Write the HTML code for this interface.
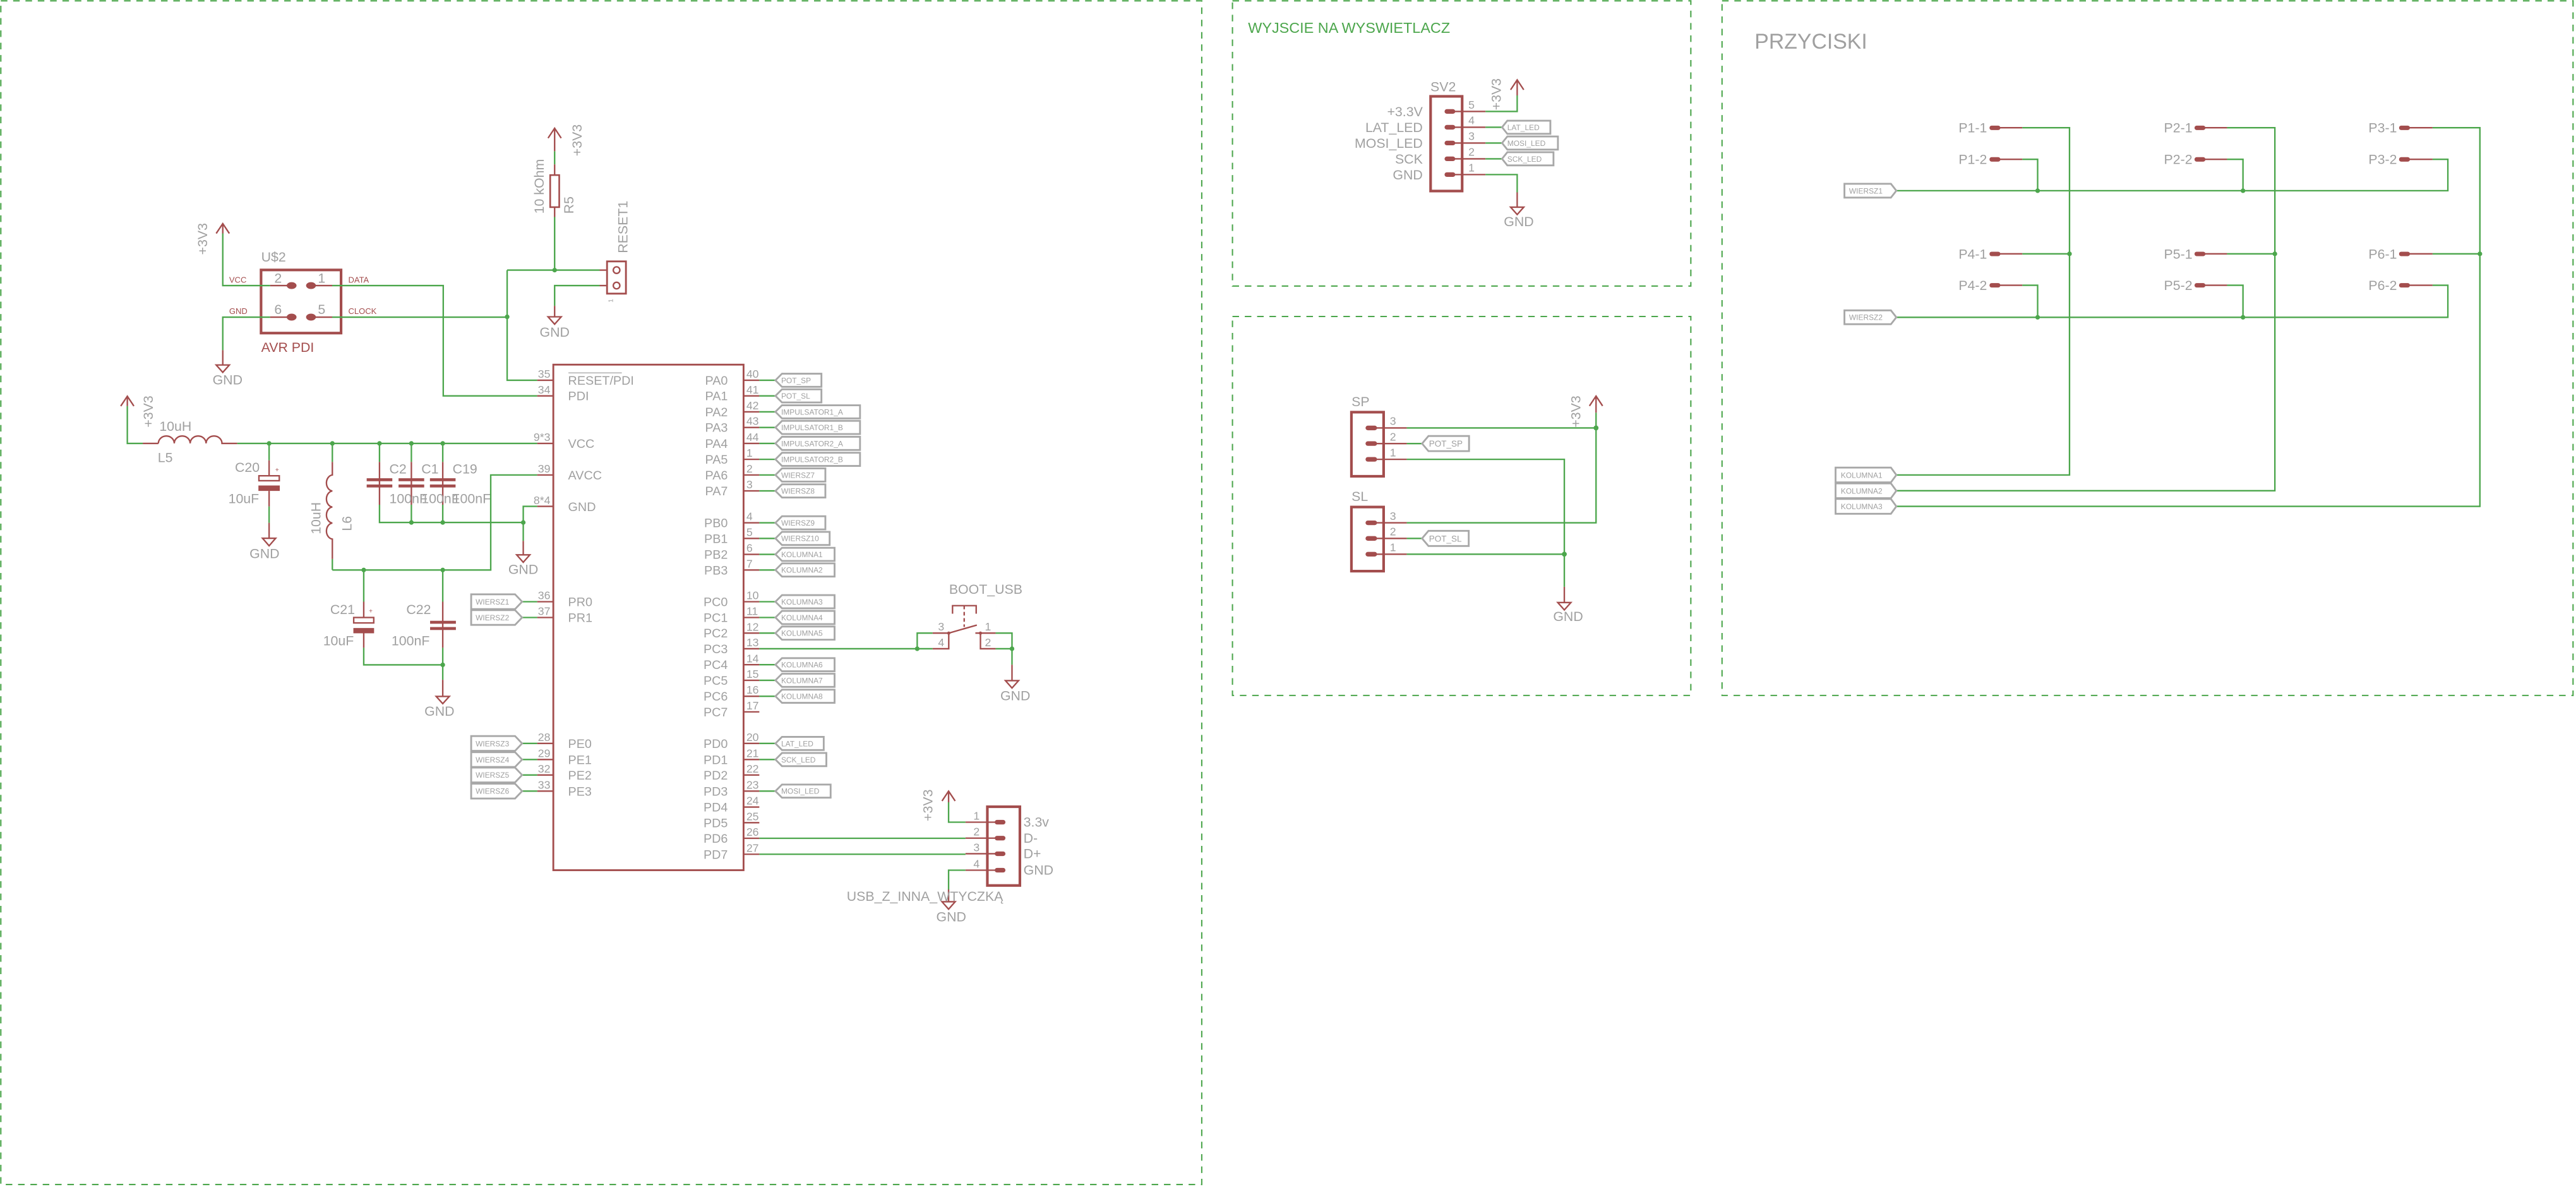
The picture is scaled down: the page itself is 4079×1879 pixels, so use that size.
<!DOCTYPE html>
<html><head><meta charset="utf-8"><style>
html,body{margin:0;padding:0;background:#fff;}
svg{display:block;}
text{font-family:"Liberation Sans",Arial,sans-serif;fill:#a0a0a0;}
.r{stroke:#a34d4d;fill:none;stroke-width:0.9;}
.rt{stroke:#a34d4d;fill:none;stroke-width:1.6;}
.g{stroke:#4ca64c;fill:none;stroke-width:0.9;}
.fr{stroke:#4ca64c;fill:none;stroke-width:0.8;stroke-dasharray:4 3.5;}
.lb{stroke:#a8a8a8;fill:none;stroke-width:1.1;}
.j{fill:#4ca64c;}
.pad{fill:#a34d4d;}
.rd{fill:#a34d4d;}
.lt{font-size:4.6px;}
.pn{font-size:7.6px;}
.nm{font-size:6.8px;}
.v{font-size:8.2px;}
</style></head><body>
<svg width="4079" height="1879" viewBox="0 0 1568 722" preserveAspectRatio="none" xmlns="http://www.w3.org/2000/svg">
<!-- frames -->
<rect class="fr" x="0.5" y="0.5" width="731" height="720"/>
<rect class="fr" x="750.2" y="0.5" width="279" height="173.5"/>
<rect class="fr" x="750.2" y="192.5" width="279" height="230.5"/>
<rect class="fr" x="1048.2" y="0.5" width="518" height="422.5"/>

<!-- ===== R5 / RESET ===== -->
<path class="r" d="M333.6 84 L337.6 78 L341.6 84 M337.6 78 V92"/>
<path class="g" d="M337.6 92 V100"/>
<path class="r" d="M337.6 100 V106.5 M337.6 126 V132"/>
<rect class="r" x="334.9" y="106.5" width="5.5" height="19.5" style="stroke-width:1"/>
<path class="g" d="M337.6 132 V164.3 M308.7 164.3 H365 M308.7 164.3 V231.3 H327"/>
<path class="r" d="M365 164.3 H369"/>
<rect class="r" x="369.5" y="159" width="11.5" height="19.6" style="stroke-width:1.1"/>
<circle class="r" cx="375.3" cy="164.3" r="2"/><circle class="r" cx="375.3" cy="173.7" r="2"/>
<path class="g" d="M365 173.7 H337.6 V186"/>
<path class="r" d="M369 173.7 H365 M337.6 186 V192.7 M333.6 192.7 H341.6 L337.6 197.2 Z"/>
<text class="v" x="337.6" y="204.8" text-anchor="middle">GND</text>
<text class="v" transform="translate(354,95) rotate(-90)">+3V3</text>
<text class="v" transform="translate(331,130) rotate(-90)">10 kOhm</text>
<text class="v" transform="translate(349,130) rotate(-90)">R5</text>
<text class="v" transform="translate(382,154) rotate(-90)">RESET1</text>
<text style="font-size:4px" transform="translate(373,184) rotate(-90)">1</text>
<circle class="j" cx="337.6" cy="164.3" r="1.4"/>
<circle class="j" cx="308.7" cy="192.7" r="1.4"/>

<!-- ===== U$2 AVR PDI ===== -->
<rect class="rt" x="158.9" y="164.2" width="48.7" height="38.4"/>
<ellipse class="pad" cx="177.5" cy="173.7" rx="3" ry="2.1"/><ellipse class="pad" cx="189.3" cy="173.7" rx="3" ry="2.1"/>
<ellipse class="pad" cx="177.5" cy="192.9" rx="3" ry="2.1"/><ellipse class="pad" cx="189.3" cy="192.9" rx="3" ry="2.1"/>
<path class="r" d="M164.4 173.7 H177 M189.5 173.7 H202.2 M164.4 192.9 H177 M189.5 192.9 H202.2"/>
<path class="g" d="M202.2 173.7 H269.8 V240.8 H327 M202.2 192.9 H308.7 M164.4 173.7 H135.6 V142 M164.4 192.9 H135.6 V213"/>
<path class="r" d="M131.6 142 L135.6 136 L139.6 142 M135.6 136 V142 M135.6 213 V222 M131.6 222 H139.6 L135.6 226.5 Z"/>
<text class="v" x="138.5" y="233.8" text-anchor="middle">GND</text>
<text class="v" transform="translate(126,155) rotate(-90)">+3V3</text>
<text class="v" x="159" y="159">U$2</text>
<text class="v" x="167" y="172">2</text><text class="v" x="193.5" y="172">1</text>
<text class="v" x="167" y="191">6</text><text class="v" x="193.5" y="191">5</text>
<text style="font-size:5px;fill:#a34d4d" x="139.5" y="172">VCC</text>
<text style="font-size:5px;fill:#a34d4d" x="139.5" y="191">GND</text>
<text style="font-size:5px;fill:#a34d4d" x="212" y="172">DATA</text>
<text style="font-size:5px;fill:#a34d4d" x="212" y="191">CLOCK</text>
<text style="font-size:8.2px;fill:#a34d4d" x="159" y="214">AVR PDI</text>

<!-- ===== Power filter ===== -->
<path class="r" d="M73.5 247 L77.5 241 L81.5 247 M77.5 241 V247"/>
<path class="g" d="M77.5 247 V269.7 H86.9"/>
<path class="r" d="M86.9 269.7 H96.4 M96.4 269.7 a4.84 4.5 0 0 1 9.68 0 a4.84 4.5 0 0 1 9.68 0 a4.84 4.5 0 0 1 9.68 0 a4.84 4.5 0 0 1 9.68 0 H144.4"/>
<path class="g" d="M144.4 269.7 H327"/>
<path class="r" d="M327 269.7 H337"/>
<text class="v" transform="translate(93,260) rotate(-90)">+3V3</text>
<text class="v" x="97" y="262">10uH</text>
<text class="v" x="96" y="281">L5</text>
<!-- C20 -->
<path class="g" d="M163.8 269.7 V280 M163.8 308 V318"/>
<path class="r" d="M163.8 280 V289 M163.8 298.6 V308 M163.8 318 V327.4 M159.8 327.4 H167.8 L163.8 332 Z"/>
<rect class="r" x="157.6" y="289.4" width="12.4" height="3"/>
<rect class="rd" x="157.3" y="295.3" width="13" height="3.3"/>
<text style="font-size:4px;fill:#a34d4d" x="167.5" y="287">+</text>
<text class="v" x="143" y="287">C20</text>
<text class="v" x="139" y="306">10uF</text>
<text class="v" x="161" y="339.5" text-anchor="middle">GND</text>
<!-- L6 -->
<path class="g" d="M202.3 269.7 V281 M202.3 340 V346.7"/>
<path class="r" d="M202.3 281 V288.9 a4 4.9 0 0 0 0 9.75 a4 4.9 0 0 0 0 9.75 a4 4.9 0 0 0 0 9.75 a4 4.9 0 0 0 0 9.75 V340"/>
<text class="v" transform="translate(195,325) rotate(-90)">10uH</text>
<text class="v" transform="translate(214,323) rotate(-90)">L6</text>
<!-- C2 C1 C19 -->
<path class="g" d="M231 269.7 V281 M250.4 269.7 V281 M269.5 269.7 V281 M231 307 V317.8 H318.5 M250.4 307 V317.8 M269.5 307 V317.8"/>
<path class="r" d="M231 281 V307 M250.4 281 V307 M269.5 281 V307"/>
<rect class="rd" x="223.2" y="290.9" width="15.6" height="1.8"/><rect class="rd" x="223.2" y="294.7" width="15.6" height="1.8"/>
<rect class="rd" x="242.6" y="290.9" width="15.6" height="1.8"/><rect class="rd" x="242.6" y="294.7" width="15.6" height="1.8"/>
<rect class="rd" x="261.7" y="290.9" width="15.6" height="1.8"/><rect class="rd" x="261.7" y="294.7" width="15.6" height="1.8"/>
<text class="v" x="237" y="288">C2</text><text class="v" x="256.5" y="288">C1</text><text class="v" x="275.5" y="288">C19</text>
<text class="v" x="237" y="306">100nF</text><text class="v" x="256.5" y="306">100nF</text><text class="v" x="275.5" y="306">100nF</text>
<circle class="j" cx="163.8" cy="269.7" r="1.4"/><circle class="j" cx="202.3" cy="269.7" r="1.4"/>
<circle class="j" cx="231" cy="269.7" r="1.4"/><circle class="j" cx="250.4" cy="269.7" r="1.4"/><circle class="j" cx="269.5" cy="269.7" r="1.4"/>
<circle class="j" cx="250.4" cy="317.8" r="1.4"/><circle class="j" cx="269.5" cy="317.8" r="1.4"/><circle class="j" cx="318.5" cy="317.8" r="1.4"/>
<!-- GND pin 8*4 -->
<path class="g" d="M327 308 H318.5 V329"/>
<path class="r" d="M327 308 H337 M318.5 329 V337.5 M314.5 337.5 H322.5 L318.5 342 Z"/>
<text class="v" x="318.5" y="349" text-anchor="middle">GND</text>
<!-- AVCC -->
<path class="g" d="M327 288.9 H298.7 V346.7 H202.3"/>
<path class="r" d="M327 288.9 H337"/>
<!-- C21 C22 -->
<path class="g" d="M221.4 346.7 V366 M269.5 346.7 V366 M221.4 394 V404.4 H269.5 M269.5 394 V413.5"/>
<path class="r" d="M221.4 366 V375.5 M221.4 385.1 V394 M269.5 366 V394 M269.5 413.5 V423.6 M265.5 423.6 H273.5 L269.5 428 Z"/>
<rect class="r" x="215.3" y="375.6" width="12.2" height="3.3"/>
<rect class="rd" x="215.1" y="382" width="12.6" height="3.2"/>
<rect class="rd" x="261.8" y="377.6" width="15.7" height="1.8"/><rect class="rd" x="261.8" y="381.4" width="15.7" height="1.8"/>
<text style="font-size:4px;fill:#a34d4d" x="224.5" y="373">+</text>
<text class="v" x="201" y="373.5">C21</text><text class="v" x="247.3" y="373.5">C22</text>
<text class="v" x="196.7" y="392.5">10uF</text><text class="v" x="238.3" y="392.5">100nF</text>
<text class="v" x="267.5" y="435.3" text-anchor="middle">GND</text>
<circle class="j" cx="221.4" cy="346.7" r="1.4"/><circle class="j" cx="269.5" cy="346.7" r="1.4"/><circle class="j" cx="269.5" cy="404.4" r="1.4"/>

<!-- ===== Main chip ===== -->
<rect class="r" x="336.8" y="221.8" width="115.8" height="307.5" style="stroke-width:1.1"/>
<g class="pn">
<text x="345.8" y="234">RESET/PDI</text>
<path class="r" d="M346 226.8 H378.5" style="stroke-width:0.5;stroke:#a0a0a0"/>
<text x="345.8" y="243.5">PDI</text>
<text x="345.8" y="272.4">VCC</text>
<text x="345.8" y="291.6">AVCC</text>
<text x="345.8" y="310.8">GND</text>
<text x="345.8" y="368.7">PR0</text><text x="345.8" y="378.3">PR1</text>
<text x="345.8" y="454.9">PE0</text><text x="345.8" y="464.7">PE1</text><text x="345.8" y="474.1">PE2</text><text x="345.8" y="483.9">PE3</text>
</g>
<g class="pn" text-anchor="end">
<text x="443" y="234">PA0</text><text x="443" y="243.5">PA1</text><text x="443" y="253.2">PA2</text><text x="443" y="262.7">PA3</text>
<text x="443" y="272.4">PA4</text><text x="443" y="282.1">PA5</text><text x="443" y="291.6">PA6</text><text x="443" y="301.3">PA7</text>
<text x="443" y="320.7">PB0</text><text x="443" y="330.2">PB1</text><text x="443" y="339.9">PB2</text><text x="443" y="349.4">PB3</text>
<text x="443" y="368.7">PC0</text><text x="443" y="378.3">PC1</text><text x="443" y="387.8">PC2</text><text x="443" y="397.3">PC3</text>
<text x="443" y="407">PC4</text><text x="443" y="416.5">PC5</text><text x="443" y="426.2">PC6</text><text x="443" y="435.7">PC7</text>
<text x="443" y="454.9">PD0</text><text x="443" y="464.7">PD1</text><text x="443" y="474.1">PD2</text><text x="443" y="483.9">PD3</text>
<text x="443" y="493.6">PD4</text><text x="443" y="503.1">PD5</text><text x="443" y="512.6">PD6</text><text x="443" y="522.3">PD7</text>
</g>
<!-- left pin numbers & stubs -->
<g class="nm" text-anchor="end">
<text x="335" y="229.8">35</text><text x="335" y="239.3">34</text><text x="335" y="268.2">9*3</text><text x="335" y="287.4">39</text><text x="335" y="306.6">8*4</text>
<text x="335" y="364.5">36</text><text x="335" y="374.1">37</text>
<text x="335" y="450.7">28</text><text x="335" y="460.5">29</text><text x="335" y="469.9">32</text><text x="335" y="479.7">33</text>
</g>
<path class="r" d="M327 231.3 H337 M327 240.8 H337 M327 366 H337 M327 375.6 H337 M327 452.2 H337 M327 462 H337 M327 471.4 H337 M327 481.2 H337"/>
<path class="g" d="M317.8 366 H327 M317.8 375.6 H327 M317.8 452.2 H327 M317.8 462 H327 M317.8 471.4 H327 M317.8 481.2 H327"/>
<!-- left labels -->
<g class="lb">
<path d="M286.8 361.5 H313.5 L317.8 366 L313.5 370.5 H286.8 Z"/>
<path d="M286.8 371.1 H313.5 L317.8 375.6 L313.5 380.1 H286.8 Z"/>
<path d="M286.8 447.7 H313.5 L317.8 452.2 L313.5 456.7 H286.8 Z"/>
<path d="M286.8 457.5 H313.5 L317.8 462 L313.5 466.5 H286.8 Z"/>
<path d="M286.8 466.9 H313.5 L317.8 471.4 L313.5 475.9 H286.8 Z"/>
<path d="M286.8 476.7 H313.5 L317.8 481.2 L313.5 485.7 H286.8 Z"/>
</g>
<g class="lt">
<text x="289.5" y="367.7">WIERSZ1</text><text x="289.5" y="377.3">WIERSZ2</text>
<text x="289.5" y="453.9">WIERSZ3</text><text x="289.5" y="463.7">WIERSZ4</text><text x="289.5" y="473.1">WIERSZ5</text><text x="289.5" y="482.9">WIERSZ6</text>
</g>
<!-- right pin numbers -->
<g class="nm">
<text x="454.3" y="229.8">40</text><text x="454.3" y="239.3">41</text><text x="454.3" y="249">42</text><text x="454.3" y="258.5">43</text>
<text x="454.3" y="268.2">44</text><text x="454.3" y="277.9">1</text><text x="454.3" y="287.4">2</text><text x="454.3" y="297.1">3</text>
<text x="454.3" y="316.5">4</text><text x="454.3" y="326">5</text><text x="454.3" y="335.7">6</text><text x="454.3" y="345.2">7</text>
<text x="454.3" y="364.5">10</text><text x="454.3" y="374.1">11</text><text x="454.3" y="383.6">12</text><text x="454.3" y="393.1">13</text>
<text x="454.3" y="402.8">14</text><text x="454.3" y="412.3">15</text><text x="454.3" y="422">16</text><text x="454.3" y="431.5">17</text>
<text x="454.3" y="450.7">20</text><text x="454.3" y="460.5">21</text><text x="454.3" y="469.9">22</text><text x="454.3" y="479.7">23</text>
<text x="454.3" y="489.4">24</text><text x="454.3" y="498.9">25</text><text x="454.3" y="508.4">26</text><text x="454.3" y="518.1">27</text>
</g>
<path class="r" d="M452.6 231.3 H462.2 M452.6 240.8 H462.2 M452.6 250.5 H462.2 M452.6 260 H462.2 M452.6 269.7 H462.2 M452.6 279.4 H462.2 M452.6 288.9 H462.2 M452.6 298.6 H462.2
M452.6 318 H462.2 M452.6 327.5 H462.2 M452.6 337.2 H462.2 M452.6 346.7 H462.2 M452.6 366 H462.2 M452.6 375.6 H462.2 M452.6 385.1 H462.2 M452.6 394.6 H462.2
M452.6 404.3 H462.2 M452.6 413.8 H462.2 M452.6 423.5 H462.2 M452.6 433 H462.2 M452.6 452.2 H462.2 M452.6 462 H462.2 M452.6 471.4 H462.2 M452.6 481.2 H462.2
M452.6 490.9 H462.2 M452.6 500.4 H462.2 M452.6 509.9 H462.2 M452.6 519.6 H462.2"/>
<path class="g" d="M462.2 231.3 H472 M462.2 240.8 H472 M462.2 250.5 H472 M462.2 260 H472 M462.2 269.7 H472 M462.2 279.4 H472 M462.2 288.9 H472 M462.2 298.6 H472
M462.2 318 H472 M462.2 327.5 H472 M462.2 337.2 H472 M462.2 346.7 H472 M462.2 366 H472 M462.2 375.6 H472 M462.2 385.1 H472
M462.2 404.3 H472 M462.2 413.8 H472 M462.2 423.5 H472 M462.2 452.2 H472 M462.2 462 H472 M462.2 481.2 H472"/>
<!-- right labels -->
<g class="lb">
<path d="M472 231.3 L476 227.3 H500 V235.3 H476 Z"/>
<path d="M472 240.8 L476 236.8 H500 V244.8 H476 Z"/>
<path d="M472 250.5 L476 246.5 H523.5 V254.5 H476 Z"/>
<path d="M472 260 L476 256 H523.5 V264 H476 Z"/>
<path d="M472 269.7 L476 265.7 H523.5 V273.7 H476 Z"/>
<path d="M472 279.4 L476 275.4 H523.5 V283.4 H476 Z"/>
<path d="M472 288.9 L476 284.9 H502.4 V292.9 H476 Z"/>
<path d="M472 298.6 L476 294.6 H502.4 V302.6 H476 Z"/>
<path d="M472 318 L476 314 H502.4 V322 H476 Z"/>
<path d="M472 327.5 L476 323.5 H505 V331.5 H476 Z"/>
<path d="M472 337.2 L476 333.2 H508 V341.2 H476 Z"/>
<path d="M472 346.7 L476 342.7 H508 V350.7 H476 Z"/>
<path d="M472 366 L476 362 H508 V370 H476 Z"/>
<path d="M472 375.6 L476 371.6 H508 V379.6 H476 Z"/>
<path d="M472 385.1 L476 381.1 H508 V389.1 H476 Z"/>
<path d="M472 404.3 L476 400.3 H508 V408.3 H476 Z"/>
<path d="M472 413.8 L476 409.8 H508 V417.8 H476 Z"/>
<path d="M472 423.5 L476 419.5 H508 V427.5 H476 Z"/>
<path d="M472 452.2 L476 448.2 H501.4 V456.2 H476 Z"/>
<path d="M472 462 L476 458 H503 V466 H476 Z"/>
<path d="M472 481.2 L476 477.2 H505.6 V485.2 H476 Z"/>
</g>
<g class="lt">
<text x="475.5" y="233">POT_SP</text><text x="475.5" y="242.5">POT_SL</text>
<text x="475.5" y="252.2">IMPULSATOR1_A</text><text x="475.5" y="261.7">IMPULSATOR1_B</text>
<text x="475.5" y="271.4">IMPULSATOR2_A</text><text x="475.5" y="281.1">IMPULSATOR2_B</text>
<text x="475.5" y="290.6">WIERSZ7</text><text x="475.5" y="300.3">WIERSZ8</text>
<text x="475.5" y="319.7">WIERSZ9</text><text x="475.5" y="329.2">WIERSZ10</text>
<text x="475.5" y="338.9">KOLUMNA1</text><text x="475.5" y="348.4">KOLUMNA2</text>
<text x="475.5" y="367.7">KOLUMNA3</text><text x="475.5" y="377.3">KOLUMNA4</text><text x="475.5" y="386.8">KOLUMNA5</text>
<text x="475.5" y="406">KOLUMNA6</text><text x="475.5" y="415.5">KOLUMNA7</text><text x="475.5" y="425.2">KOLUMNA8</text>
<text x="475.5" y="453.9">LAT_LED</text><text x="475.5" y="463.7">SCK_LED</text><text x="475.5" y="482.9">MOSI_LED</text>
</g>

<!-- ===== BOOT_USB ===== -->
<path class="g" d="M462.2 394.6 H567.7 M558.3 394.6 V385.1 H567.7 M606 385.1 H616 V404.3 M606 394.6 H616"/>
<path class="r" d="M567.7 385.1 H577.5 V394.6 H567.7 M577.5 385.1 L594.6 380.2 M593.7 385.1 H606 M596.8 385.1 V394.6 H606 M579.8 373.3 V368.4 H594.2 V373.3 M616 404.3 V414 M612 414 H620 L616 418.5 Z"/>
<path class="r" d="M586.9 368.4 V381.3" style="stroke-dasharray:2.2 1.6"/>
<circle class="rd" cx="577.5" cy="385.1" r="1"/><circle class="rd" cx="596.8" cy="385.1" r="1"/>
<circle class="j" cx="558.3" cy="394.6" r="1.4"/><circle class="j" cx="616" cy="394.6" r="1.4"/>
<text class="v" x="577.7" y="361.2">BOOT_USB</text>
<text class="nm" x="571" y="383.5">3</text><text class="nm" x="571" y="393">4</text>
<text class="nm" x="599.5" y="383.5">1</text><text class="nm" x="599.5" y="393">2</text>
<text class="v" x="618" y="426" text-anchor="middle">GND</text>

<!-- ===== USB connector ===== -->
<path class="g" d="M462.2 509.9 H587.7 M462.2 519.6 H587.7 M577.4 488 V500.1 H587.7 M587.7 529.3 H577.4 V541"/>
<path class="r" d="M573.4 487.2 L577.4 481.2 L581.4 487.2 M577.4 481.2 V488 M587.7 500.1 H606 M587.7 509.8 H606 M587.7 519.3 H606 M587.7 529.3 H606 M577.4 541 V548.5 M573.4 548.5 H581.4 L577.4 553 Z"/>
<rect class="rt" x="601" y="490.7" width="19.8" height="47.9"/>
<g class="pad"><rect x="605.5" y="498.7" width="6.5" height="2.8" rx="1.4"/><rect x="605.5" y="508.4" width="6.5" height="2.8" rx="1.4"/><rect x="605.5" y="517.9" width="6.5" height="2.8" rx="1.4"/><rect x="605.5" y="527.9" width="6.5" height="2.8" rx="1.4"/></g>
<g class="nm"><text x="592.5" y="498.5">1</text><text x="592.5" y="508.2">2</text><text x="592.5" y="517.7">3</text><text x="592.5" y="527.7">4</text></g>
<g class="v"><text x="623" y="502.8">3.3v</text><text x="623" y="512.5">D-</text><text x="623" y="522">D+</text><text x="623" y="532">GND</text></g>
<text class="v" transform="translate(567.5,499.5) rotate(-90)">+3V3</text>
<text class="v" x="515.4" y="548">USB_Z_INNA_WTYCZKĄ</text>
<text class="v" x="579" y="560.5" text-anchor="middle">GND</text>

<!-- ===== WYJSCIE NA WYSWIETLACZ ===== -->
<text style="font-size:9px;fill:#4ca64c" x="759.7" y="20">WYJSCIE NA WYSWIETLACZ</text>
<rect class="rt" x="870.8" y="58.6" width="19.2" height="57.6"/>
<g class="pad"><rect x="879.3" y="66.4" width="6.5" height="2.8" rx="1.4"/><rect x="879.3" y="76" width="6.5" height="2.8" rx="1.4"/><rect x="879.3" y="85.6" width="6.5" height="2.8" rx="1.4"/><rect x="879.3" y="95.2" width="6.5" height="2.8" rx="1.4"/><rect x="879.3" y="104.8" width="6.5" height="2.8" rx="1.4"/></g>
<path class="r" d="M885 67.8 H904.2 M885 77.4 H904.2 M885 87 H904.2 M885 96.6 H904.2 M885 106.2 H904.2 M919.5 54.6 L923.5 48.6 L927.5 54.6 M923.5 48.6 V58 M923.5 117 V126 M919.5 126 H927.5 L923.5 130.5 Z"/>
<path class="g" d="M904.2 67.8 H923.5 V58 M904.2 77.4 H914.3 M904.2 87 H914.3 M904.2 96.6 H914.3 M904.2 106.2 H923.5 V117"/>
<g class="lb">
<path d="M914.3 77.4 L917.5 73.4 H943.7 V81.4 H917.5 Z"/>
<path d="M914.3 87 L917.5 83 H948.3 V91 H917.5 Z"/>
<path d="M914.3 96.6 L917.5 92.6 H945.6 V100.6 H917.5 Z"/>
</g>
<g class="lt"><text x="917.5" y="79.1">LAT_LED</text><text x="917.5" y="88.7">MOSI_LED</text><text x="917.5" y="98.3">SCK_LED</text></g>
<g class="v" text-anchor="end">
<text x="866" y="70.8">+3.3V</text><text x="866" y="80.4">LAT_LED</text><text x="866" y="90">MOSI_LED</text><text x="866" y="99.6">SCK</text><text x="866" y="109.2">GND</text>
</g>
<g class="nm"><text x="893.8" y="66">5</text><text x="893.8" y="75.6">4</text><text x="893.8" y="85.2">3</text><text x="893.8" y="94.8">2</text><text x="893.8" y="104.4">1</text></g>
<text class="v" x="870.7" y="55.5">SV2</text>
<text class="v" transform="translate(913.5,67) rotate(-90)">+3V3</text>
<text class="v" x="924.5" y="137.5" text-anchor="middle">GND</text>

<!-- ===== SP / SL ===== -->
<rect class="rt" x="822.6" y="250.7" width="19.6" height="39"/>
<rect class="rt" x="822.6" y="308.4" width="19.6" height="39"/>
<g class="pad">
<rect x="831.2" y="258.9" width="7" height="2.8" rx="1.4"/><rect x="831.2" y="268.4" width="7" height="2.8" rx="1.4"/><rect x="831.2" y="278" width="7" height="2.8" rx="1.4"/>
<rect x="831.2" y="316.6" width="7" height="2.8" rx="1.4"/><rect x="831.2" y="326.1" width="7" height="2.8" rx="1.4"/><rect x="831.2" y="335.7" width="7" height="2.8" rx="1.4"/>
</g>
<path class="r" d="M838 260.3 H856.3 M838 269.8 H856.3 M838 279.4 H856.3 M838 318 H856.3 M838 327.5 H856.3 M838 337.1 H856.3 M967.5 246.9 L971.5 240.9 L975.5 246.9 M971.5 240.9 V251 M952.2 356.9 V366.5 M948.2 366.5 H956.2 L952.2 371 Z"/>
<path class="g" d="M856.3 260.3 H971.5 V251 M971.5 260.3 V318 H856.3 M856.3 269.8 H865.6 M856.3 327.5 H865.6 M856.3 279.4 H952.2 V356.9 M856.3 337.1 H952.2"/>
<g class="lb">
<path d="M865.6 269.8 L869.5 265.2 H894.2 V274.4 H869.5 Z"/>
<path d="M865.6 327.5 L869.5 322.9 H894 V332.1 H869.5 Z"/>
</g>
<g style="font-size:5.2px"><text x="869.8" y="271.7">POT_SP</text><text x="869.8" y="329.4">POT_SL</text></g>
<g class="nm"><text x="846" y="258.5">3</text><text x="846" y="268">2</text><text x="846" y="277.6">1</text><text x="846" y="316.2">3</text><text x="846" y="325.7">2</text><text x="846" y="335.3">1</text></g>
<text class="v" x="822.7" y="247">SP</text><text class="v" x="822.7" y="304.8">SL</text>
<text class="v" transform="translate(962,260) rotate(-90)">+3V3</text>
<text class="v" x="954.5" y="377.8" text-anchor="middle">GND</text>
<circle class="j" cx="971.5" cy="260.3" r="1.5"/><circle class="j" cx="952.2" cy="337.1" r="1.5"/>

<!-- ===== PRZYCISKI ===== -->
<text style="font-size:13px" x="1068" y="29.5">PRZYCISKI</text>
<g class="pad">
<rect x="1211" y="76.4" width="6.6" height="2.7" rx="1.3"/><rect x="1211" y="95.6" width="6.6" height="2.7" rx="1.3"/>
<rect x="1211" y="153.1" width="6.6" height="2.7" rx="1.3"/><rect x="1211" y="172.2" width="6.6" height="2.7" rx="1.3"/>
<rect x="1335.8" y="76.4" width="6.6" height="2.7" rx="1.3"/><rect x="1335.8" y="95.6" width="6.6" height="2.7" rx="1.3"/>
<rect x="1335.8" y="153.1" width="6.6" height="2.7" rx="1.3"/><rect x="1335.8" y="172.2" width="6.6" height="2.7" rx="1.3"/>
<rect x="1460.3" y="76.4" width="6.6" height="2.7" rx="1.3"/><rect x="1460.3" y="95.6" width="6.6" height="2.7" rx="1.3"/>
<rect x="1460.3" y="153.1" width="6.6" height="2.7" rx="1.3"/><rect x="1460.3" y="172.2" width="6.6" height="2.7" rx="1.3"/>
</g>
<path class="r" d="M1217 77.7 H1231 M1217 96.9 H1231 M1217 154.4 H1231 M1217 173.5 H1231
M1342 77.7 H1355.6 M1342 96.9 H1355.6 M1342 154.4 H1355.6 M1342 173.5 H1355.6
M1466.5 77.7 H1480.7 M1466.5 96.9 H1480.7 M1466.5 154.4 H1480.7 M1466.5 173.5 H1480.7"/>
<path class="g" d="M1231 77.7 H1259.7 V288.9 H1154.3 M1231 96.9 H1240.3 V116 M1231 154.4 H1259.7 M1231 173.5 H1240.3 V193
M1355.6 77.7 H1384.7 V298.5 H1154.3 M1355.6 96.9 H1365.3 V116 M1355.6 154.4 H1384.7 M1355.6 173.5 H1365.3 V193
M1480.7 77.7 H1509.5 V308 H1154.3 M1480.7 96.9 H1490 V116 H1154.3 M1480.7 154.4 H1509.5 M1480.7 173.5 H1490 V193 H1154.3"/>
<g class="j">
<circle cx="1240.3" cy="116" r="1.4"/><circle cx="1365.3" cy="116" r="1.4"/>
<circle cx="1259.7" cy="154.4" r="1.4"/><circle cx="1384.7" cy="154.4" r="1.4"/><circle cx="1509.5" cy="154.4" r="1.4"/>
<circle cx="1240.3" cy="193" r="1.4"/><circle cx="1365.3" cy="193" r="1.4"/>
</g>
<g class="v" text-anchor="end">
<text x="1209.5" y="80.6">P1-1</text><text x="1209.5" y="99.8">P1-2</text><text x="1209.5" y="157.3">P4-1</text><text x="1209.5" y="176.4">P4-2</text>
<text x="1334.5" y="80.6">P2-1</text><text x="1334.5" y="99.8">P2-2</text><text x="1334.5" y="157.3">P5-1</text><text x="1334.5" y="176.4">P5-2</text>
<text x="1459" y="80.6">P3-1</text><text x="1459" y="99.8">P3-2</text><text x="1459" y="157.3">P6-1</text><text x="1459" y="176.4">P6-2</text>
</g>
<g class="lb">
<path d="M1122.7 111.8 H1151 L1154.3 116 L1151 120.2 H1122.7 Z"/>
<path d="M1122.7 188.8 H1151 L1154.3 193 L1151 197.2 H1122.7 Z"/>
<path d="M1117.3 284.4 H1151 L1154.3 288.9 L1151 293.4 H1117.3 Z"/>
<path d="M1117.3 294 H1151 L1154.3 298.5 L1151 303 H1117.3 Z"/>
<path d="M1117.3 303.5 H1151 L1154.3 308 L1151 312.5 H1117.3 Z"/>
</g>
<g class="lt">
<text x="1125.5" y="117.7">WIERSZ1</text><text x="1125.5" y="194.7">WIERSZ2</text>
<text x="1120.5" y="290.6">KOLUMNA1</text><text x="1120.5" y="300.2">KOLUMNA2</text><text x="1120.5" y="309.7">KOLUMNA3</text>
</g>
</svg>
</body></html>
